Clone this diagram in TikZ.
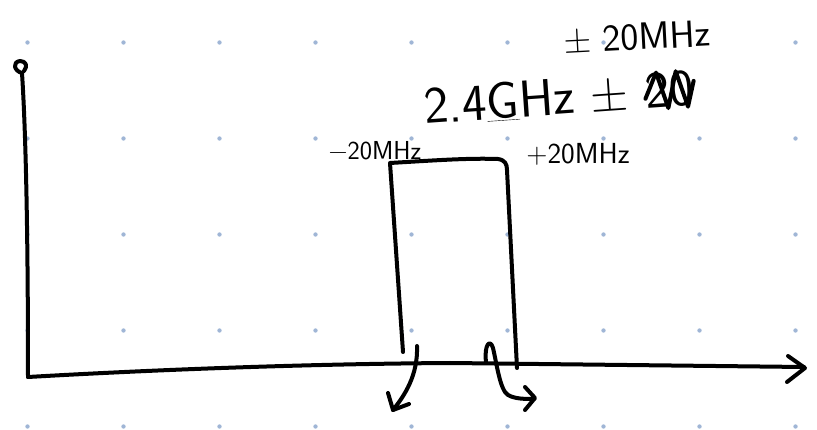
\documentclass[tikz,border=0pt]{standalone}
\usepackage{fontspec}
\usetikzlibrary{calc}
\definecolor{griddot}{RGB}{160,182,214}
\begin{document}
\begin{tikzpicture}[x=1pt,y=-1pt,pen/.style={line width=4pt,line cap=round,line join=round},
  hand/.style={font=\sffamily,inner sep=0pt}]
\useasboundingbox (0,0) rectangle (817,430);
\foreach \i in {0,...,8} \foreach \j in {0,...,4}
  \fill[griddot] (27.5+96*\i,42.5+96*\j) circle (2.2);
% axes
\draw[pen] (22,73) .. controls (14,71) and (12,62) .. (20,61) .. controls (26,61) and (28,66) .. (24,71);
\draw[pen] (22,73) .. controls (27,150) and (28,280) .. (28,377);
\draw[pen] (28,377) .. controls (150,370) and (300,364) .. (450,363) -- (804,367);
\draw[pen] (788,356) -- (805,368) -- (787,382);
% pulse
\draw[pen] (403,352) -- (390,163) .. controls (440,160) and (470,158) .. (498,159)
  .. controls (505,160) and (507,164) .. (507,170) -- (517,368);
% arrows below the axis
\draw[pen] (417,346) .. controls (418,375) and (405,395) .. (393,410);
\draw[pen] (388,393) -- (393,410) -- (409,404);
\draw[pen] (486,362) .. controls (484,345) and (490,338) .. (493,348)
  .. controls (497,365) and (500,390) .. (508,395) .. controls (515,399) and (525,399) .. (534,399);
\draw[pen] (525,387) -- (535,398) -- (525,410);
% labels
\node[hand,rotate=3,font=\sffamily\fontsize{38}{38}\selectfont] (band) at (637,37) {± 20MHz};
\node[hand,rotate=4,anchor=base west,font=\sffamily\fontsize{52}{52}\selectfont] (freq) at (425,124) {2.4\underline{G}Hz ±\ \mbox{}};
\node[hand,rotate=4,anchor=base west,font=\sffamily\fontsize{52}{52}\selectfont] (struck) at (freq.base east) {20};
\draw[pen] ($(struck.south west)!.3!(struck.north west)$) -- ($(struck.north west)!.25!(struck.north east)$)
  -- ($(struck.south west)!.45!(struck.south east)$) -- ($(struck.north west)!.65!(struck.north east)$)
  -- ($(struck.south west)!.85!(struck.south east)$) -- ($(struck.north east)!.3!(struck.south east)$);
\node[hand,font=\sffamily\fontsize{26}{26}\selectfont] (lower) at (375,151) {−20MHz};
\node[hand,font=\sffamily\fontsize{29}{29}\selectfont] (upper) at (578,154) {+20MHz};
\end{tikzpicture}
\end{document}
